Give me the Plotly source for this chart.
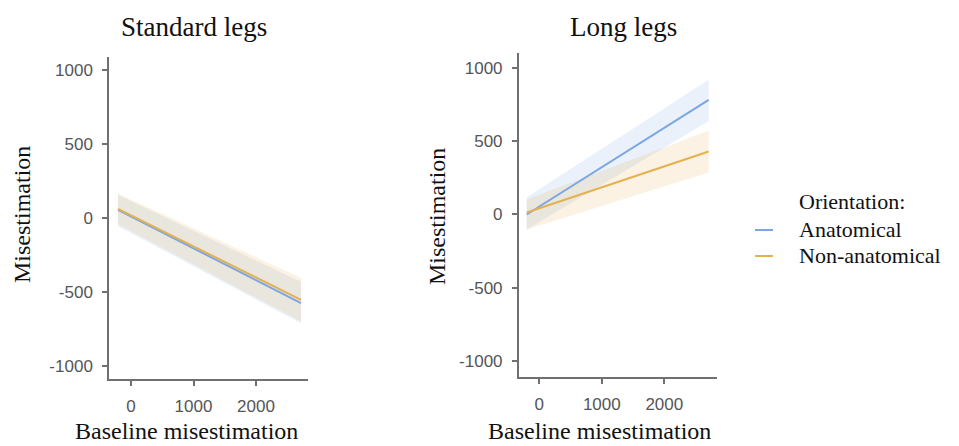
import plotly.graph_objects as go

# Fitted regression lines (start / end of the baseline range) with 95% CI bands
orientations = ["Anatomical", "Non-anatomical"]
colors = {"Anatomical": "#7ba6e3", "Non-anatomical": "#e5b14f"}
fills = {"Anatomical": "rgba(123,166,227,0.16)", "Non-anatomical": "rgba(229,177,79,0.16)"}

baseline_std = [-208, 2720]
std_fit = {"Anatomical": [55, -575], "Non-anatomical": [62, -553]}
std_lo = {"Anatomical": [-55, -712], "Non-anatomical": [-42, -700]}
std_hi = {"Anatomical": [155, -432], "Non-anatomical": [165, -405]}

baseline_long = [-202, 2710]
long_fit = {"Anatomical": [0, 782], "Non-anatomical": [14, 430]}
long_lo = {"Anatomical": [-102, 638], "Non-anatomical": [-102, 287]}
long_hi = {"Anatomical": [118, 920], "Non-anatomical": [102, 573]}

y_ticks = [-1000, -500, 0, 500, 1000]
y_tick_text = ["-1000", "-500", "0", "500", "1000"]
x_ticks = [0, 1000, 2000]
x_tick_text = ["0", "1000", "2000"]

W, H = 959, 446
SERIF = "Liberation Serif"
SANS = "Liberation Sans"

fig = go.Figure()

panels = [
    ("x", "y", baseline_std, std_fit, std_lo, std_hi),
    ("x2", "y2", baseline_long, long_fit, long_lo, long_hi),
]
for xa, ya, xs, fit, lo, hi in panels:
    for o in orientations:
        fig.add_trace(go.Scatter(
            x=xs + xs[::-1], y=hi[o] + lo[o][::-1], fill="toself",
            fillcolor=fills[o], line=dict(width=0), mode="lines",
            hoverinfo="skip", showlegend=False, xaxis=xa, yaxis=ya))
    for o in orientations:
        fig.add_trace(go.Scatter(
            x=xs, y=fit[o], mode="lines", name=o,
            line=dict(color=colors[o], width=2), showlegend=False,
            xaxis=xa, yaxis=ya))

def px_x(v):
    return v / W

def px_y(v):
    return 1 - v / H

axis_common = dict(
    showgrid=False, zeroline=False, showline=True, linecolor="#707070",
    linewidth=1.5, ticks="outside", ticklen=5, tickwidth=1.5, tickcolor="#707070",
    tickfont=dict(family=SANS, size=17, color="#555555"),
)
x_common = dict(tickvals=x_ticks, ticktext=x_tick_text, ticklabelstandoff=6, **axis_common)
y_common = dict(tickvals=y_ticks, ticktext=y_tick_text, ticklabelstandoff=6, **axis_common)

fig.update_layout(
    width=W, height=H, margin=dict(l=0, r=0, t=0, b=0),
    paper_bgcolor="white", plot_bgcolor="white",
    xaxis=dict(domain=[px_x(109), px_x(308)], range=[-352, 2832], anchor="y", **x_common),
    yaxis=dict(domain=[px_y(379), px_y(57)], range=[-1088, 1088], anchor="x", **y_common),
    xaxis2=dict(domain=[px_x(518.7), px_x(716.7)], range=[-330, 2838], anchor="y2", **x_common),
    yaxis2=dict(domain=[px_y(377), px_y(53)], range=[-1109, 1102], anchor="x2", **y_common),
)

annotations = [
    dict(text="Standard legs", x=px_x(194), y=px_y(27), size=27),
    dict(text="Long legs", x=px_x(623), y=px_y(27), size=27),
    dict(text="Misestimation", x=px_x(22), y=px_y(215), size=24, angle=-90),
    dict(text="Misestimation", x=px_x(437), y=px_y(217), size=24, angle=-90),
]
for a in annotations:
    fig.add_annotation(
        text=a["text"], x=a["x"], y=a["y"], xref="paper", yref="paper",
        xanchor="center", yanchor="middle", showarrow=False,
        textangle=a.get("angle", 0),
        font=dict(family=SERIF, size=a["size"], color="#111111"))

# x-axis titles sit on the bottom edge of the page
for cx in (186, 599):
    fig.add_annotation(
        text="Baseline misestimation", x=px_x(cx), y=0, xref="paper", yref="paper",
        xanchor="center", yanchor="bottom", showarrow=False,
        font=dict(family=SERIF, size=24, color="#111111"))

# Legend: title, key lines and labels
fig.add_annotation(text="Orientation:", x=px_x(797), y=px_y(201), xref="paper",
                   yref="paper", xanchor="left", yanchor="middle", showarrow=False,
                   font=dict(family=SERIF, size=22, color="#111111"))
legend_rows = [230, 256]
for o, row in zip(orientations, legend_rows):
    fig.add_shape(type="line", xref="paper", yref="paper",
                  x0=px_x(755), x1=px_x(773), y0=px_y(row), y1=px_y(row),
                  line=dict(color=colors[o], width=2))
    fig.add_annotation(text=o, x=px_x(797), y=px_y(row - 1), xref="paper",
                       yref="paper", xanchor="left", yanchor="middle",
                       showarrow=False,
                       font=dict(family=SERIF, size=22, color="#111111"))

fig.write_html("out.html")
